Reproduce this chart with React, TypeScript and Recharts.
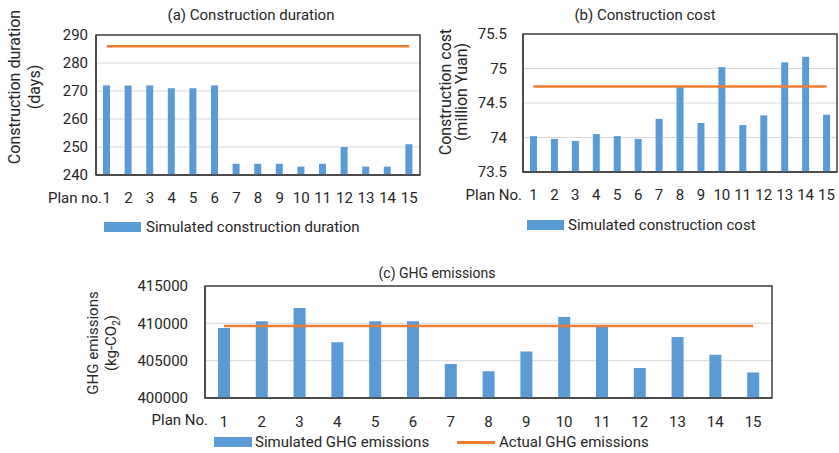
import React from 'react';
import {
  ComposedChart,
  Bar,
  Line,
  XAxis,
  YAxis,
  CartesianGrid,
  ReferenceArea
} from 'recharts';

const plans = ['1', '2', '3', '4', '5', '6', '7', '8', '9', '10', '11', '12', '13', '14', '15'];

const durationSim = [272, 272, 272, 271, 271, 272, 244, 244, 244, 243, 244, 250, 243, 243, 251];
const durationActual = 286;
const durationTicks = [240, 250, 260, 270, 280, 290];

const costSim = [74.02, 73.98, 73.95, 74.05, 74.02, 73.98, 74.27, 74.74, 74.21, 75.02, 74.18, 74.32, 75.09, 75.17, 74.33];
const costActual = 74.74;
const costTicks = [73.5, 74, 74.5, 75, 75.5];

const ghgSim = [409370, 410270, 412060, 407450, 410270, 410270, 404570, 403590, 406240, 410850, 409640, 404030, 408160, 405780, 403410];
const ghgActual = 409650;
const ghgTicks = [400000, 405000, 410000, 415000];

const BLUE = '#5B9BD5';
const ORANGE = '#ED7D31';
const BORDER = '#404040';
const FONT = 'Roboto, "Noto Sans", sans-serif';
const TEXT = '#262626';

const durationData = plans.map((p, i) => ({ plan: p, sim: durationSim[i], actual: durationActual }));
const costData = plans.map((p, i) => ({ plan: p, sim: costSim[i], actual: costActual }));
const ghgData = plans.map((p, i) => ({ plan: p, sim: ghgSim[i], actual: ghgActual }));

const tickStyle = { fill: TEXT, fontSize: 15, fontFamily: FONT };
const axisLine = { stroke: BORDER, strokeWidth: 1.5 };

// plain html text placed over the charts
const Txt = ({ x, y, children, anchor = 'middle', size = 15, rotate = false }: any) => {
  const tx = anchor === 'middle' ? '-50%' : anchor === 'end' ? '-100%' : '0';
  return (
    <div
      style={{
        position: 'absolute',
        left: x,
        top: y,
        transform: rotate ? 'translate(-50%,-50%) rotate(-90deg)' : `translate(${tx},-50%)`,
        whiteSpace: 'nowrap',
        fontSize: size,
        fontFamily: FONT,
        color: TEXT,
        lineHeight: 1
      }}
    >
      {children}
    </div>
  );
};

const Swatch = ({ x, y, w, h, color }: any) => (
  <div style={{ position: 'absolute', left: x, top: y, width: w, height: h, background: color }} />
);

export default function App() {
  return (
    <div style={{ position: 'absolute', left: 0, top: 0, width: 839, height: 453, background: '#fff', overflow: 'hidden' }}>
      {/* (a) construction duration */}
      <div style={{ position: 'absolute', left: 0, top: 0 }}>
        <ComposedChart width={430} height={240} data={durationData} margin={{ top: 35, right: 10, bottom: 0, left: 0 }}>
          <CartesianGrid vertical={false} stroke="#d9d9d9" />
          <XAxis dataKey="plan" tickLine={false} axisLine={axisLine} tick={tickStyle} tickSize={0} tickMargin={17} interval={0} height={65} />
          <YAxis width={96} domain={[240, 290]} ticks={durationTicks} allowDataOverflow tickLine={false} axisLine={axisLine} tick={tickStyle} tickSize={0} tickMargin={8} />
          <Bar dataKey="sim" fill={BLUE} barSize={7} isAnimationActive={false} />
          <Line type="linear" dataKey="actual" stroke={ORANGE} strokeWidth={2.5} dot={false} isAnimationActive={false} />
          <ReferenceArea y1={240} y2={290} stroke={BORDER} strokeWidth={1.5} fill="none" fillOpacity={0} />
        </ComposedChart>
      </div>
      <Txt x={251} y={15}>(a) Construction duration</Txt>
      <Txt x={15} y={87} rotate size={16}>Construction duration</Txt>
      <Txt x={35} y={87} rotate size={16}>(days)</Txt>
      <Txt x={102} y={198} anchor="end">Plan no.</Txt>
      <Swatch x={104} y={222} w={37} h={10} color={BLUE} />
      <Txt x={146} y={227} anchor="start">Simulated construction duration</Txt>

      {/* (b) construction cost */}
      <div style={{ position: 'absolute', left: 420, top: 0 }}>
        <ComposedChart width={419} height={240} data={costData} margin={{ top: 34, right: 2, bottom: 0, left: 0 }}>
          <CartesianGrid vertical={false} stroke="#d9d9d9" />
          <XAxis dataKey="plan" tickLine={false} axisLine={axisLine} tick={tickStyle} tickSize={0} tickMargin={17} interval={0} height={68} />
          <YAxis width={103} domain={[73.5, 75.5]} ticks={costTicks} allowDataOverflow tickLine={false} axisLine={axisLine} tick={tickStyle} tickSize={0} tickMargin={16} />
          <Bar dataKey="sim" fill={BLUE} barSize={7} isAnimationActive={false} />
          <Line type="linear" dataKey="actual" stroke={ORANGE} strokeWidth={2.5} dot={false} isAnimationActive={false} />
          <ReferenceArea y1={73.5} y2={75.5} stroke={BORDER} strokeWidth={1.5} fill="none" fillOpacity={0} />
        </ComposedChart>
      </div>
      <Txt x={645} y={15}>(b) Construction cost</Txt>
      <Txt x={446} y={92} rotate size={16}>Construction cost</Txt>
      <Txt x={462} y={92} rotate size={16}>(million Yuan)</Txt>
      <Txt x={522} y={195} anchor="end">Plan No.</Txt>
      <Swatch x={527} y={220} w={37} h={10} color={BLUE} />
      <Txt x={568} y={225} anchor="start">Simulated construction cost</Txt>

      {/* (c) GHG emissions */}
      <div style={{ position: 'absolute', left: 0, top: 250 }}>
        <ComposedChart width={839} height={203} data={ghgData} margin={{ top: 36, right: 67, bottom: 0, left: 0 }}>
          <CartesianGrid vertical={false} stroke="#d9d9d9" />
          <XAxis dataKey="plan" tickLine={false} axisLine={axisLine} tick={tickStyle} tickSize={0} tickMargin={18} interval={0} height={55} />
          <YAxis width={205} domain={[400000, 415000]} ticks={ghgTicks} allowDataOverflow tickLine={false} axisLine={axisLine} tick={tickStyle} tickSize={0} tickMargin={17} />
          <Bar dataKey="sim" fill={BLUE} barSize={12} isAnimationActive={false} />
          <Line type="linear" dataKey="actual" stroke={ORANGE} strokeWidth={2.5} dot={false} isAnimationActive={false} />
          <ReferenceArea y1={400000} y2={415000} stroke={BORDER} strokeWidth={1.5} fill="none" fillOpacity={0} />
        </ComposedChart>
      </div>
      <Txt x={437} y={273} size={14}>(c) GHG emissions</Txt>
      <Txt x={93} y={343} rotate>GHG emissions</Txt>
      <Txt x={113} y={343} rotate>(kg-CO<sub style={{ fontSize: 10 }}>2</sub>)</Txt>
      <Txt x={208} y={420} anchor="end">Plan No.</Txt>
      <Swatch x={214} y={437} w={38} h={10} color={BLUE} />
      <Txt x={255} y={442} anchor="start">Simulated GHG emissions</Txt>
      <Swatch x={457} y={441} w={38} h={3} color={ORANGE} />
      <Txt x={499} y={442} anchor="start">Actual GHG emissions</Txt>
    </div>
  );
}
